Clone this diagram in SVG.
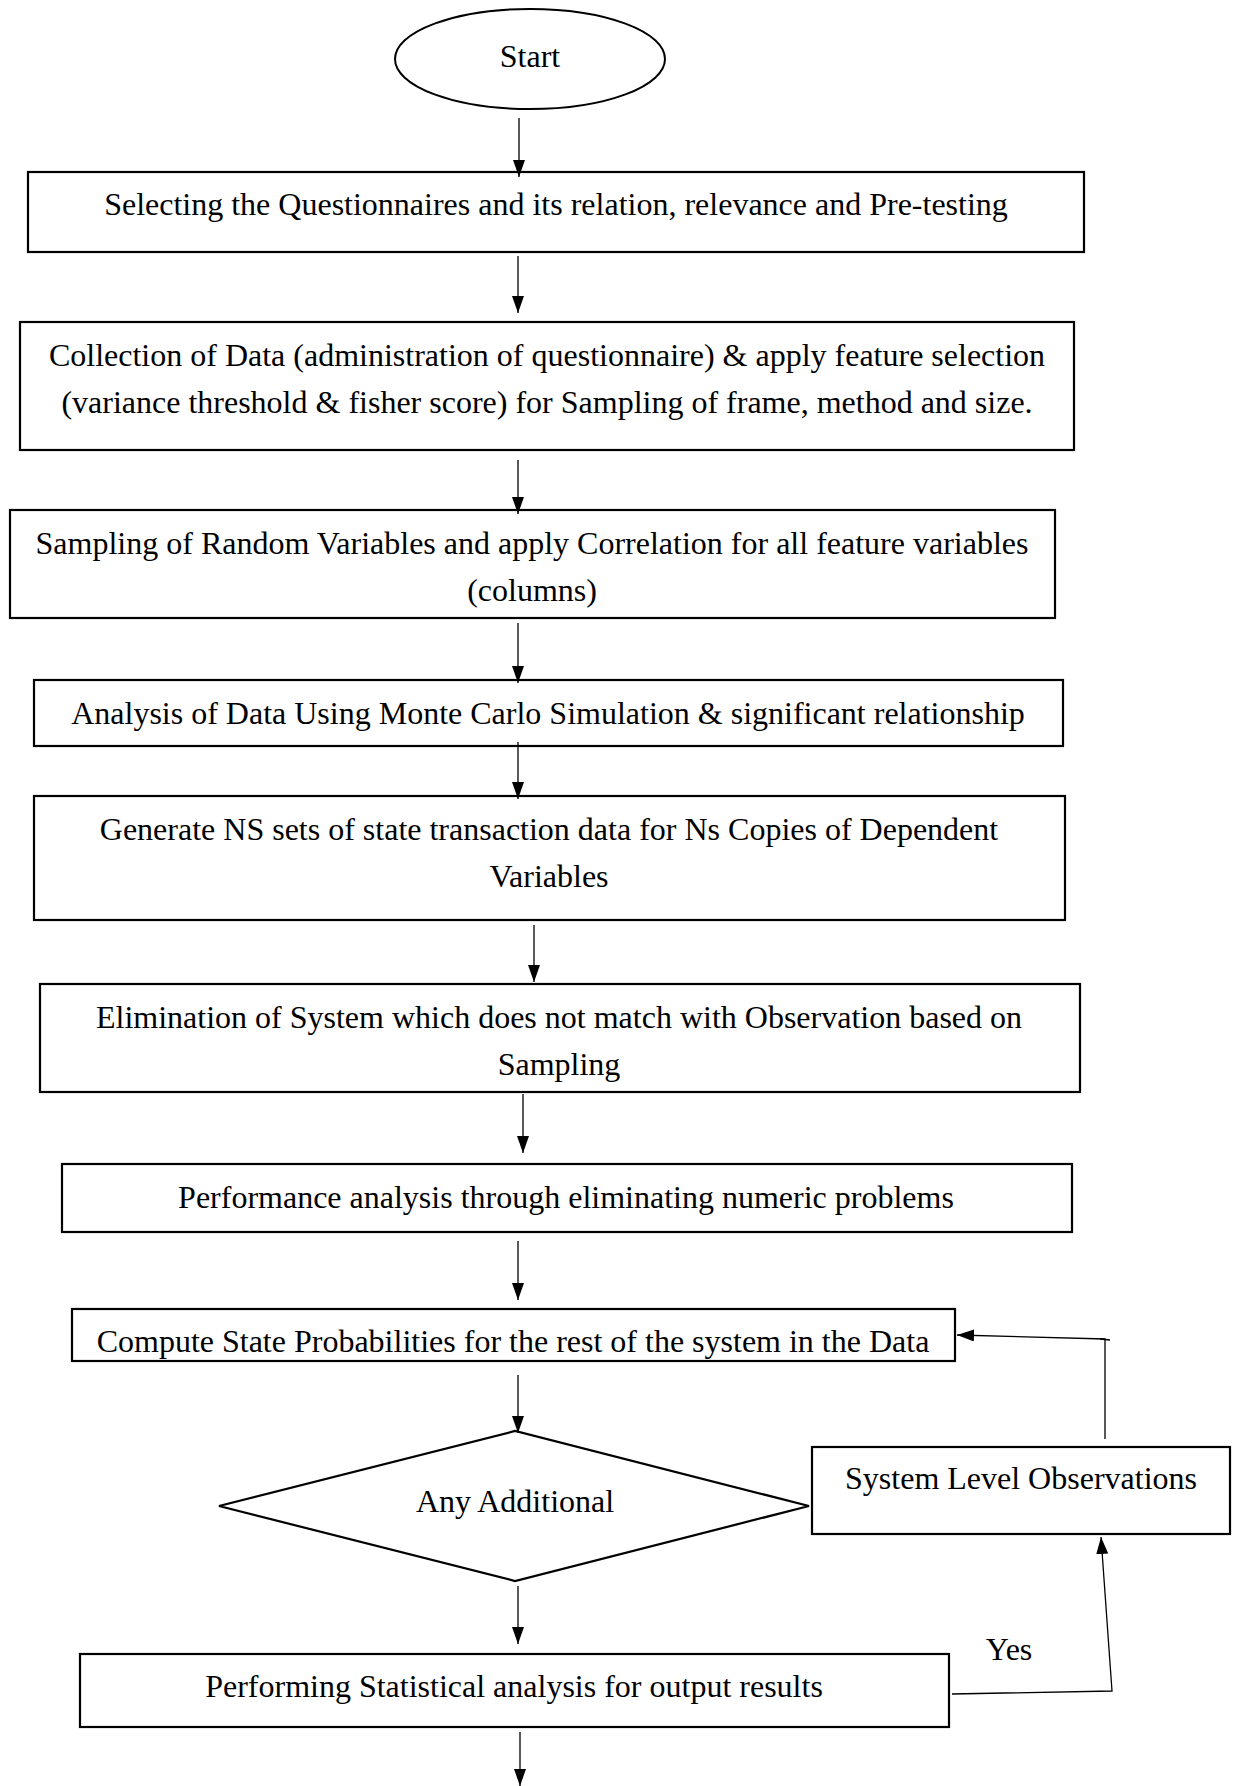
<svg xmlns="http://www.w3.org/2000/svg" width="1237" height="1786" viewBox="0 0 1237 1786">
<style>
.box{fill:#fff;stroke:#000;stroke-width:2.2}
.t{font-family:"Liberation Serif","Times New Roman",serif;font-size:32px;fill:#000;text-anchor:middle}
.c{fill:none;stroke:#000;stroke-width:1.3}
</style>
<defs>
<marker id="ah" markerUnits="userSpaceOnUse" markerWidth="18" markerHeight="12" viewBox="0 0 18 12" refX="17" refY="6" orient="auto">
<path d="M0,0 L17,6 L0,12 Z" fill="#000"/>
</marker>
<clipPath id="clip8"><rect x="72" y="1309" width="883" height="51"/></clipPath>
</defs>

<g id="start">
<ellipse cx="530" cy="59" rx="135" ry="50" fill="#fff" stroke="#000" stroke-width="2"/>
<text class="t" x="530" y="67">Start</text>
</g>

<g id="n1">
<rect class="box" x="28" y="172" width="1056" height="80"/>
<text class="t" x="556" y="215">Selecting the Questionnaires and its relation, relevance and Pre-testing</text>
</g>

<g id="n2">
<rect class="box" x="20" y="322" width="1054" height="128"/>
<text class="t" x="547" y="366">Collection of Data (administration of questionnaire) &amp; apply feature selection</text>
<text class="t" x="547" y="413">(variance threshold &amp; fisher score) for Sampling of frame, method and size.</text>
</g>

<g id="n3">
<rect class="box" x="10" y="510" width="1045" height="108"/>
<text class="t" x="532" y="554">Sampling of Random Variables and apply Correlation for all feature variables</text>
<text class="t" x="532" y="601">(columns)</text>
</g>

<g id="n4">
<rect class="box" x="34" y="680" width="1029" height="66"/>
<text class="t" x="548" y="724">Analysis of Data Using Monte Carlo Simulation &amp; significant relationship</text>
</g>

<g id="n5">
<rect class="box" x="34" y="796" width="1031" height="124"/>
<text class="t" x="549" y="840">Generate NS sets of state transaction data for Ns Copies of Dependent</text>
<text class="t" x="549" y="887">Variables</text>
</g>

<g id="n6">
<rect class="box" x="40" y="984" width="1040" height="108"/>
<text class="t" x="559" y="1028">Elimination of System which does not match with Observation based on</text>
<text class="t" x="559" y="1075">Sampling</text>
</g>

<g id="n7">
<rect class="box" x="62" y="1164" width="1010" height="68"/>
<text class="t" x="566" y="1208">Performance analysis through eliminating numeric problems</text>
</g>

<g id="n8">
<rect class="box" x="72" y="1309" width="883" height="52"/>
<text class="t" x="513" y="1352" clip-path="url(#clip8)">Compute State Probabilities for the rest of the system in the Data</text>
</g>

<g id="decision">
<polygon points="219,1506 515,1431 809,1506 515,1581" fill="#fff" stroke="#000" stroke-width="2.2"/>
<text class="t" x="515" y="1512">Any Additional</text>
</g>

<g id="n9">
<rect class="box" x="812" y="1447" width="418" height="87"/>
<text class="t" x="1021" y="1489">System Level Observations</text>
</g>

<g id="n10">
<rect class="box" x="80" y="1654" width="869" height="73"/>
<text class="t" x="514" y="1697">Performing Statistical analysis for output results</text>
</g>

<g id="connectors">
<line class="c" x1="519" y1="118" x2="519" y2="177" marker-end="url(#ah)"/>
<line class="c" x1="518" y1="256" x2="518" y2="313" marker-end="url(#ah)"/>
<line class="c" x1="518" y1="460" x2="518" y2="514" marker-end="url(#ah)"/>
<line class="c" x1="518" y1="623" x2="518" y2="683" marker-end="url(#ah)"/>
<line class="c" x1="518" y1="742" x2="518" y2="799" marker-end="url(#ah)"/>
<line class="c" x1="534" y1="925" x2="534" y2="982" marker-end="url(#ah)"/>
<line class="c" x1="523" y1="1094" x2="523" y2="1153" marker-end="url(#ah)"/>
<line class="c" x1="518" y1="1241" x2="518" y2="1300" marker-end="url(#ah)"/>
<line class="c" x1="518" y1="1375" x2="518" y2="1433" marker-end="url(#ah)"/>
<line class="c" x1="518" y1="1586" x2="518" y2="1644" marker-end="url(#ah)"/>
<line class="c" x1="520" y1="1732" x2="520" y2="1786" marker-end="url(#ah)"/>
<polyline class="c" points="1105,1439 1105,1339 957,1335" marker-end="url(#ah)"/>
<line class="c" x1="1100" y1="1339" x2="1110" y2="1340"/>
<polyline class="c" points="952,1694 1112,1691 1101,1537" marker-end="url(#ah)"/>
<text class="t" x="1009" y="1660">Yes</text>
</g>
</svg>
